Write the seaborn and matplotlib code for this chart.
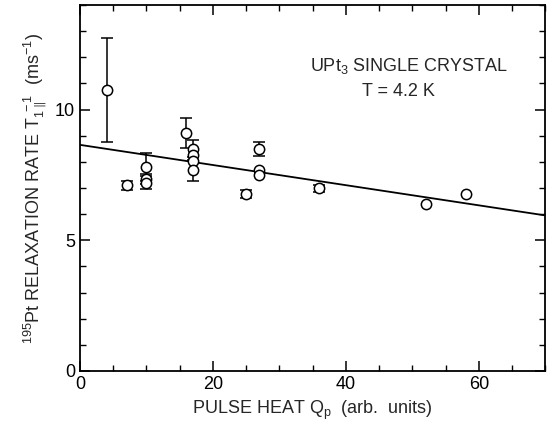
import matplotlib
matplotlib.use("Agg")
import matplotlib.pyplot as plt
import seaborn as sns
import numpy as np
import pandas as pd
from matplotlib.ticker import MultipleLocator

# data
pulse_heat = [4, 7, 10, 10, 10, 16, 17, 17, 17, 17, 25, 27, 27, 27, 36, 52, 58]
rate = [10.75, 7.1, 7.8, 7.35, 7.2, 9.1, 8.5, 8.27, 8.05, 7.67, 6.78, 8.5, 7.67, 7.48, 6.98, 6.38, 6.77]
rate_err = [2.0, 0.18, 0.55, 0.2, 0.25, 0.57, 0.32, 0.0, 0.0, 0.4, 0.15, 0.27, 0.0, 0.0, 0.15, 0.0, 0.0]

fit_x = [0, 70]
fit_y = [8.65, 5.95]

df = pd.DataFrame({"q": pulse_heat, "rate": rate, "err": rate_err})
fit = pd.DataFrame({"q": fit_x, "rate": fit_y})

sns.set_style("ticks")
plt.rcParams['font.family'] = ['Liberation Sans', 'DejaVu Sans']
plt.rcParams['mathtext.fontset'] = 'custom'
plt.rcParams['mathtext.rm'] = 'Liberation Sans'
plt.rcParams['mathtext.it'] = 'Liberation Sans'

fig = plt.figure(figsize=(5.48, 4.21), dpi=100)
ax = fig.add_axes([0.146, 0.119, 0.849, 0.869])

sns.lineplot(data=fit, x="q", y="rate", color="black", linewidth=1.3, ax=ax)

eb = df[df.err > 0]
ax.errorbar(eb.q, eb.rate, yerr=eb.err, fmt="none", ecolor="black",
            elinewidth=1.1, capsize=4, capthick=1.1, zorder=3)
sns.scatterplot(data=df, x="q", y="rate", marker="o", s=55, facecolor="white",
                edgecolor="black", linewidth=1.1, ax=ax, zorder=4)

ax.set_xlim(0, 70)
ax.set_ylim(0, 14)
ax.xaxis.set_major_locator(MultipleLocator(20))
ax.xaxis.set_minor_locator(MultipleLocator(5))
ax.yaxis.set_major_locator(MultipleLocator(5))
ax.yaxis.set_minor_locator(MultipleLocator(1))
ax.tick_params(which="both", direction="in", top=True, right=True, labelsize=13, colors="black")
ax.tick_params(which="major", length=7, width=1.1)
ax.tick_params(which="minor", length=4, width=1.0)
for s in ax.spines.values():
    s.set_linewidth(1.3)
    s.set_color("black")

ax.set_xlabel("PULSE HEAT Q$_\\mathrm{p}$  (arb.  units)", fontsize=13)
ax.set_ylabel("$^{195}$Pt RELAXATION RATE T$_{1\\parallel}^{\\ -1}$  (ms$^{-1}$)", fontsize=13)

ax.text(0.495, 0.833, "UPt$_3$ SINGLE CRYSTAL", transform=ax.transAxes,
        ha="left", va="center", fontsize=13)
ax.text(0.684, 0.765, "T = 4.2 K", transform=ax.transAxes,
        ha="center", va="center", fontsize=13)

fig.savefig("out.png", dpi=100)
plt.close(fig)
